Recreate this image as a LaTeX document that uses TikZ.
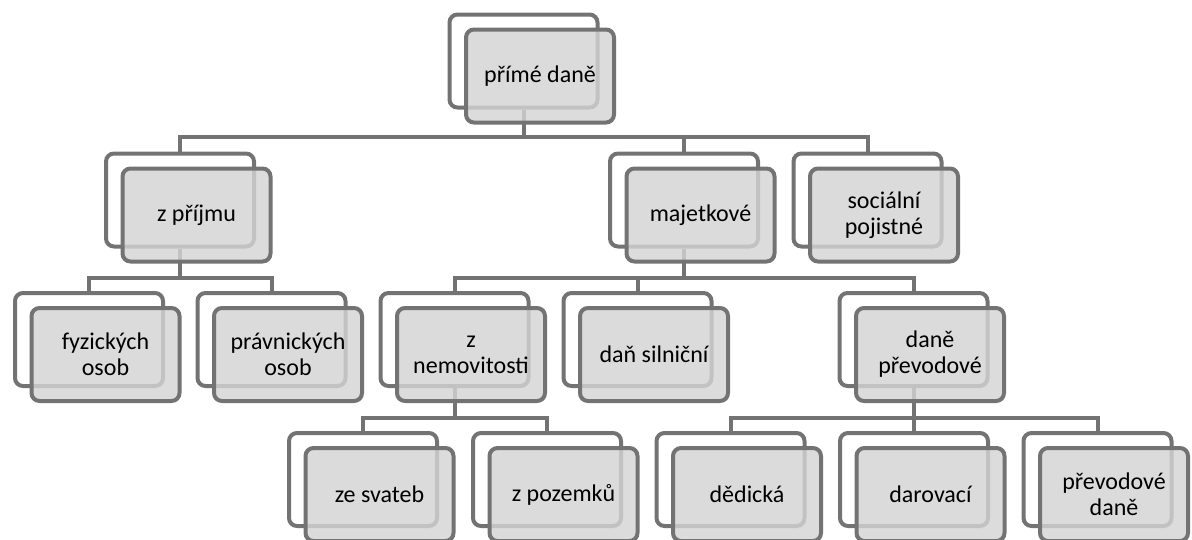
\documentclass[tikz,border=0pt]{standalone}
\usepackage{fontspec}
\setmainfont{Carlito}
\definecolor{linegray}{HTML}{737373}
\definecolor{boxgray}{HTML}{D4D4D4}
\begin{document}
\begin{tikzpicture}[x=1pt,y=-1pt,
  backbox/.style={draw=linegray, line width=4pt, rounded corners=8pt, fill=white,
    minimum width=148pt, minimum height=93pt, inner sep=0pt},
  frontbox/.style={backbox, fill=boxgray, fill opacity=0.82, text opacity=1,
    text=black, align=center, font=\fontsize{24}{26}\selectfont},
  conn/.style={draw=linegray, line width=4pt}]
\useasboundingbox (0,0) rectangle (1192,539);

% connector bars between levels
\coordinate (bar0) at (0,137);
\coordinate (bar1) at (0,277.5);
\coordinate (bar2) at (0,418);

% back frames
\node[backbox] (b0)  at (523.5,61) {};
\node[backbox] (b1)  at (180,200) {};
\node[backbox] (b2)  at (684,200) {};
\node[backbox] (b3)  at (867.5,200) {};
\node[backbox] (b11) at (89,339.5) {};
\node[backbox] (b12) at (271.5,339.5) {};
\node[backbox] (b21) at (454.5,339.5) {};
\node[backbox] (b22) at (637.5,339.5) {};
\node[backbox] (b23) at (913.5,339.5) {};
\node[backbox] (b211) at (363,479.5) {};
\node[backbox] (b212) at (547,479.5) {};
\node[backbox] (b231) at (730.5,479.5) {};
\node[backbox] (b232) at (914,479.5) {};
\node[backbox] (b233) at (1097.5,479.5) {};

% connectors
\foreach \p/\c in {b0/b1, b0/b2, b0/b3}
  \draw[conn] (\p.south) -- (\p.south |- bar0) -| (\c.north);
\foreach \p/\c in {b1/b11, b1/b12, b2/b21, b2/b22, b2/b23}
  \draw[conn] (\p.south) -- (\p.south |- bar1) -| (\c.north);
\foreach \p/\c in {b21/b211, b21/b212, b23/b231, b23/b232, b23/b233}
  \draw[conn] (\p.south) -- (\p.south |- bar2) -| (\c.north);

% front boxes with labels
\node[frontbox] (f0)  at ([shift={(16.5,15)}]b0.center) {přímé daně};
\node[frontbox] (f1)  at ([shift={(16.5,15)}]b1.center) {z příjmu};
\node[frontbox] (f2)  at ([shift={(16.5,15)}]b2.center) {majetkové};
\node[frontbox] (f3)  at ([shift={(16.5,15)}]b3.center) {sociální\\pojistné};
\node[frontbox] (f11) at ([shift={(16.5,15)}]b11.center) {fyzických\\osob};
\node[frontbox] (f12) at ([shift={(16.5,15)}]b12.center) {právnických\\osob};
\node[frontbox] (f21) at ([shift={(16.5,15)}]b21.center) {z\\nemovitosti};
\node[frontbox] (f22) at ([shift={(16.5,15)}]b22.center) {daň silniční};
\node[frontbox] (f23) at ([shift={(16.5,15)}]b23.center) {daně\\převodové};
\node[frontbox] (f211) at ([shift={(16.5,15)}]b211.center) {ze svateb};
\node[frontbox] (f212) at ([shift={(16.5,15)}]b212.center) {z pozemků};
\node[frontbox] (f231) at ([shift={(16.5,15)}]b231.center) {dědická};
\node[frontbox] (f232) at ([shift={(16.5,15)}]b232.center) {darovací};
\node[frontbox] (f233) at ([shift={(16.5,15)}]b233.center) {převodové\\daně};
\end{tikzpicture}
\end{document}
